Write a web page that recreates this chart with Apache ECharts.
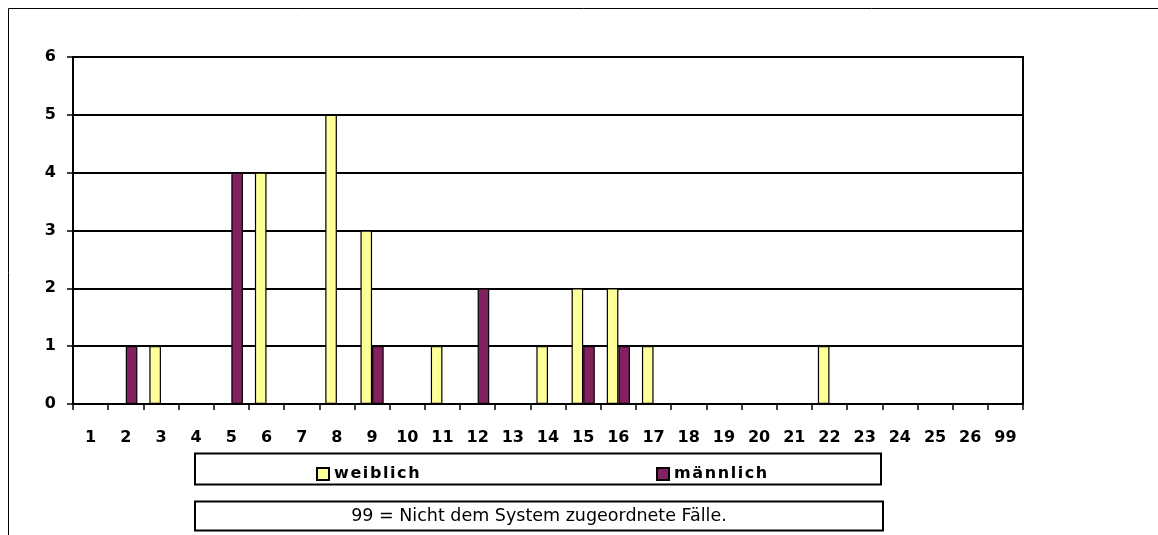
<!DOCTYPE html>
<html>
<head>
<meta charset="utf-8">
<script src="https://cdn.jsdelivr.net/npm/echarts@6/dist/echarts.min.js"></script>
<style>html,body{margin:0;padding:0;background:#fff}#c{width:1158px;height:535px}</style>
</head>
<body>
<div id="c"></div>
<script>
const categories = ['1','2','3','4','5','6','7','8','9','10','11','12','13','14','15','16','17','18','19','20','21','22','23','24','25','26','99'];
const weiblich  = [0,0,1,0,0,4,0,5,3,0,1,0,0,1,2,2,1,0,0,0,0,1,0,0,0,0,0];
const maennlich = [0,1,0,0,4,0,0,0,1,0,0,2,0,0,1,1,0,0,0,0,0,0,0,0,0,0,0];
const yTicks = [0,1,2,3,4,5,6];
const noteText = '99 = Nicht dem System zugeordnete Fälle.';

const FONT = '"DejaVu Sans", Verdana, sans-serif';
const spaced = s => s.split('').join('\u200A');
const chart = echarts.init(document.getElementById('c'), null, {renderer: 'canvas'});
const legendText = {fontFamily: FONT, fontSize: 16, fontWeight: 'bold', color: '#000'};
chart.setOption({
  animation: false,
  backgroundColor: '#fff',
  textStyle: {fontFamily: FONT},
  grid: {left: 73, right: 135, top: 57, bottom: 131, show: true, borderColor: '#000', borderWidth: 2, backgroundColor: 'transparent'},
  legend: [
    {data: ['weiblich'], left: 311, top: 461, itemWidth: 12, itemHeight: 12, icon: 'rect', formatter: spaced,
     textStyle: legendText, itemGap: 6},
    {data: ['männlich'], left: 651, top: 461, itemWidth: 12, itemHeight: 12, icon: 'rect', formatter: spaced,
     textStyle: legendText, itemGap: 6}
  ],
  xAxis: {
    type: 'category', data: categories,
    axisLine: {lineStyle: {color: '#000', width: 2}},
    axisTick: {show: true, length: 6, lineStyle: {color: '#000', width: 1.5}},
    axisLabel: {color: '#000', fontWeight: 'bold', fontSize: 16, fontFamily: FONT, margin: 26, interval: 0}
  },
  yAxis: {
    type: 'value', min: yTicks[0], max: yTicks[yTicks.length-1], interval: 1,
    axisLine: {show: true, lineStyle: {color: '#000', width: 2}},
    axisTick: {show: true, length: 6, lineStyle: {color: '#000', width: 1.5}},
    splitLine: {show: true, lineStyle: {color: '#000', width: 2}},
    axisLabel: {color: '#000', fontWeight: 'bold', fontSize: 16, fontFamily: FONT, margin: 17}
  },
  series: [
    {name: 'weiblich', type: 'bar', data: weiblich, barGap: '0%', barCategoryGap: '34%',
     itemStyle: {color: '#FFFF99', borderColor: '#000', borderWidth: 1.2}},
    {name: 'männlich', type: 'bar', data: maennlich, barGap: '0%', barCategoryGap: '34%',
     itemStyle: {color: '#822060', borderColor: '#000', borderWidth: 1.2}}
  ],
  graphic: [
    {type: 'rect', shape: {x: 8.5, y: 8.5, width: 1300, height: 700}, style: {fill: 'none', stroke: '#000', lineWidth: 1}, silent: true, z: -1},
    {type: 'rect', shape: {x: 195, y: 453.5, width: 686, height: 31}, style: {fill: 'none', stroke: '#000', lineWidth: 2}, silent: true},
    {type: 'rect', shape: {x: 195, y: 501.5, width: 688, height: 29}, style: {fill: 'none', stroke: '#000', lineWidth: 2}, silent: true},
    {type: 'text', x: 539, y: 516, z: 10, style: {text: noteText, fill: '#000', fontSize: 17.5, fontFamily: FONT, align: 'center', verticalAlign: 'middle', textAlign: 'center', textVerticalAlign: 'middle'}, silent: true}
  ]
});
</script>
</body>
</html>
